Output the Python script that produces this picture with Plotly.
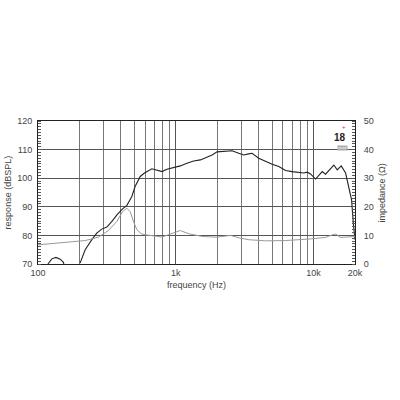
import plotly.graph_objects as go
from plotly.subplots import make_subplots

# response curve (dBSPL), None = below the plot floor
resp_freq = [118, 126, 135, 145, 153, 154, None,
             202, 220, 246, 267, 290, 316, 344, 374, 411, 442, 480, 507, 552, 593,
             671, 730, 794, 863, 964, 1079, 1205, 1348, 1508, 1687, 1834, 1994,
             2230, 2563, 2866, 3114, 3385, 3580, 4000, 4480, 5010, 5600, 6260,
             7000, 7820, 8500, 9000, 9500, 10350, 10940, 11570, 12220, 13070,
             14050, 14870, 15890, 17090, 18070, 18890, 19440, 20000]
resp_db = [70, 71.8, 72.3, 71.7, 70.6, 70, None,
           70.3, 75.0, 78.5, 80.8, 82.2, 82.9, 84.9, 87.2, 89.3, 90.5, 93.6, 97.1, 100.6, 101.8,
           103.3, 102.9, 102.3, 103.1, 103.7, 104.3, 105.2, 106.0, 106.4, 107.3, 108.1, 109.2,
           109.3, 109.6, 108.7, 108.1, 108.5, 108.7, 107.0, 105.8, 104.9, 104.1, 102.7,
           102.3, 102.0, 101.8, 102.1, 101.5, 99.7, 101.2, 102.3, 101.4, 102.9,
           104.6, 102.9, 104.3, 101.8, 97.1, 92.4, 84.3, 78.5]

# impedance curve (ohm)
imp_freq = [100, 166, 220, 275, 324, 374, 411, 442, 467, 493, 522, 561, 600, 680,
            794, 880, 1079, 1260, 1570, 1994, 2500, 2900, 3385, 4480, 6260, 9700,
            12220, 13700, 14500, 15600, 18070, 20000]
imp_ohm = [6.7, 7.5, 8.2, 9.4, 11.7, 14.9, 18.3, 19.5, 18.3, 14.9, 12.0, 10.6, 10.2, 9.9,
           9.4, 10.2, 11.7, 10.5, 9.6, 9.4, 10.0, 9.1, 8.5, 8.1, 8.2, 8.8,
           9.3, 10.2, 10.5, 9.3, 9.4, 9.6]

major_ticks = [100, 1000, 10000, 20000]
major_text = ['100', '1k', '10k', '20k']
minor_ticks = [200, 300, 400, 500, 600, 700, 800, 900,
               2000, 3000, 4000, 5000, 6000, 7000, 8000, 9000]

font = dict(family='Liberation Sans, Arial, sans-serif', size=9, color='#444')

fig = make_subplots(specs=[[{"secondary_y": True}]])
fig.add_trace(go.Scatter(x=imp_freq, y=imp_ohm, mode='lines', line=dict(color='#999', width=1),
                         showlegend=False), secondary_y=True)
fig.add_trace(go.Scatter(x=resp_freq, y=resp_db, mode='lines', line=dict(color='#222', width=1.1),
                         connectgaps=False, showlegend=False), secondary_y=False)

fig.update_xaxes(
    type='log', range=[2, 4.30103], automargin=False, domain=[0, 1],
    tickvals=major_ticks, ticktext=major_text,
    showgrid=True, gridcolor='#555', gridwidth=1,
    minor=dict(tickvals=minor_ticks, showgrid=True, gridcolor='#777', gridwidth=1, ticks=''),
    showline=True, linecolor='#222', linewidth=1, mirror=True,
    ticks='', tickfont=font,
)
fig.update_yaxes(
    range=[70, 120], dtick=10, tickfont=font, automargin=False,
    showgrid=True, gridcolor='#555', gridwidth=1,
    showline=True, linecolor='#222', linewidth=1,
    ticks='outside', ticklen=3, tickcolor='white',
    minor=dict(dtick=1, ticks='inside', ticklen=3, tickcolor='#555', showgrid=False),
    secondary_y=False,
)
fig.update_yaxes(
    range=[0, 50], dtick=10, tickfont=font, automargin=False,
    showgrid=False, zeroline=False,
    showline=True, linecolor='#222', linewidth=1,
    ticks='outside', ticklen=6, tickcolor='white',
    minor=dict(dtick=1, ticks='inside', ticklen=3, tickcolor='#555'),
    secondary_y=True,
)

# axis titles
fig.add_annotation(x=-0.095, y=0.5, xref='paper', yref='paper', text='response (dBSPL)',
                   textangle=-90, showarrow=False, font=font, xanchor='center', yanchor='middle')
fig.add_annotation(x=1.085, y=0.5, xref='paper', yref='paper', text='impedance (\u03a9)',
                   textangle=-90, showarrow=False, font=font, xanchor='center', yanchor='middle')
fig.add_annotation(x=0.5, y=-0.147, xref='paper', yref='paper', text='frequency (Hz)',
                   showarrow=False, font=font, xanchor='center', yanchor='middle')

# small brand mark
fig.add_annotation(x=0.977, y=0.94, xref='paper', yref='paper', text='<b>18</b>',
                   showarrow=False, font=dict(family='Liberation Sans, Arial', size=10, color='#222'))
fig.add_annotation(x=0.977, y=0.99, xref='paper', yref='paper', text='+',
                   showarrow=False, font=dict(family='Liberation Sans, Arial', size=6, color='#c33'))
fig.add_annotation(x=0.977, y=0.83, xref='paper', yref='paper', text='sound',
                   showarrow=False, bgcolor='#aaa', borderpad=0,
                   font=dict(family='Liberation Sans, Arial', size=3, color='#fff'))

fig.update_layout(
    width=400, height=400,
    margin=dict(l=38, r=45, t=121, b=136, pad=0),
    paper_bgcolor='white', plot_bgcolor='white',
    font=font,
)
fig.write_html("out.html", config={'displayModeBar': False},
               post_script="document.body.style.margin='0';")
